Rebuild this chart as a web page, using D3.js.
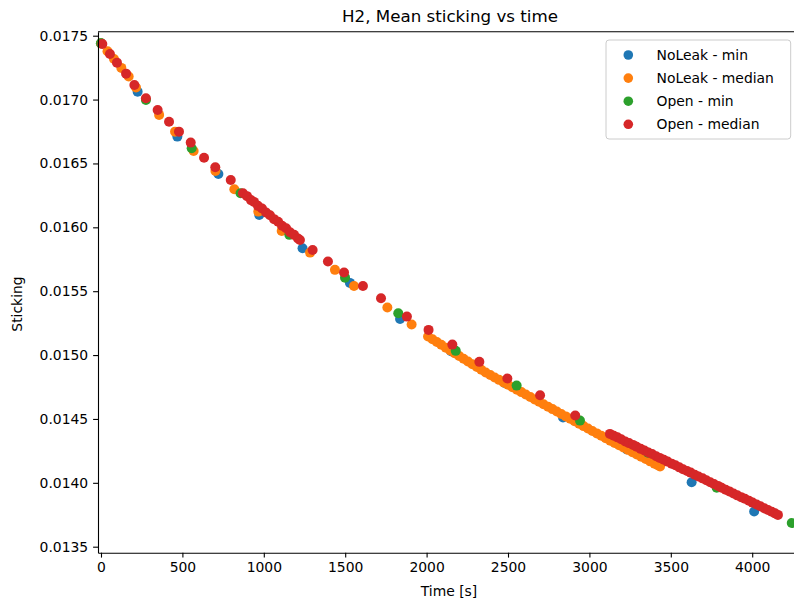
<!DOCTYPE html>
<html>
<head>
<meta charset="utf-8">
<script src="https://cdn.jsdelivr.net/npm/d3@7"></script>
<style>
  html, body { margin: 0; padding: 0; background: #fff; }
  svg { display: block; }
  text { font-family: "DejaVu Sans", sans-serif; fill: #000; }
</style>
</head>
<body>
<svg id="chart" width="794" height="601"></svg>
<script>
// ---------------- data ----------------
const chartTitle = "H2, Mean sticking vs time";
const xLabel = "Time [s]";
const yLabel = "Sticking";
const seriesNames = ["NoLeak - min", "NoLeak - median", "Open - min", "Open - median"];
const seriesColors = ["#1f77b4", "#ff7f0e", "#2ca02c", "#d62728"];
const xTicks = [0, 500, 1000, 1500, 2000, 2500, 3000, 3500, 4000];
const yTicks = [0.0135, 0.0140, 0.0145, 0.0150, 0.0155, 0.0160, 0.0165, 0.0170, 0.0175];

// NoLeak - min
const noLeakMinTime = [0, 225, 469, 721, 972, 1238, 1529, 1837, 2150, 2480, 2838, 3230, 3628, 4012];
const noLeakMinValue = [0.017440, 0.017062, 0.016710, 0.016418, 0.016097, 0.015836, 0.015565, 0.015283,
  0.015030, 0.014781, 0.014512, 0.014262, 0.014004, 0.013775];

// NoLeak - median
const noLeakMedTime = [0, 40, 80, 125, 170, 215, 357, 455, 569, 703, 819, 966, 1110, 1284, 1437, 1554, 1759, 1908,
  2009, 2036, 2063, 2090, 2118, 2145, 2172, 2200, 2227, 2254, 2281, 2309, 2336, 2363, 2391, 2418, 2445,
  2473, 2500, 2527, 2555, 2582, 2609, 2637, 2664, 2691, 2718, 2746, 2773, 2800, 2827, 2855, 2882, 2909,
  2937, 2964, 2991, 3018, 3046, 3073, 3100, 3128, 3155, 3182, 3209, 3237, 3264, 3291, 3318, 3346, 3373,
  3400, 3420, 3434];
const noLeakMedValue = [0.017440, 0.017378, 0.017318, 0.017248, 0.017180, 0.017095, 0.016880, 0.016749, 0.016598,
  0.016441, 0.016298, 0.016123, 0.015972, 0.015802, 0.015667, 0.015541, 0.015373, 0.015239,
  0.015145, 0.015124, 0.015102, 0.015081, 0.015058, 0.015037, 0.015015, 0.014993, 0.014971, 0.014950,
  0.014928, 0.014906, 0.014885, 0.014864, 0.014844, 0.014825, 0.014806, 0.014786, 0.014767, 0.014748,
  0.014729, 0.014710, 0.014691, 0.014672, 0.014653, 0.014634, 0.014615, 0.014596, 0.014577, 0.014558,
  0.014539, 0.014520, 0.014501, 0.014482, 0.014463, 0.014444, 0.014425, 0.014406, 0.014387, 0.014368,
  0.014349, 0.014330, 0.014312, 0.014294, 0.014276, 0.014258, 0.014240, 0.014222, 0.014204, 0.014186,
  0.014168, 0.014150, 0.014137, 0.014128];

// Open - min
const openMinTime = [0, 276, 557, 857, 1157, 1499, 1826, 2179, 2553, 2942, 3360, 3782, 4243];
const openMinValue = [0.017440, 0.016997, 0.016619, 0.016267, 0.015941, 0.015606, 0.015328, 0.015033,
  0.014761, 0.014487, 0.014236, 0.013962, 0.013685];

// Open - median
const openMedTime = [8, 55, 98, 154, 205, 276, 348, 418, 479, 551, 633, 702, 797,
  872, 897, 921, 940, 964, 989, 1014, 1038, 1063, 1088, 1112, 1137, 1161, 1186, 1210, 1222,
  1300, 1394, 1493, 1609, 1720, 1879, 2012, 2158, 2324, 2496, 2697, 2913,
  3126, 3150, 3172, 3195, 3220, 3243, 3268, 3290, 3315, 3338, 3362, 3385, 3410, 3432, 3457, 3480,
  3505, 3528, 3552, 3575, 3600, 3622, 3647, 3670, 3695, 3718, 3742, 3765, 3790, 3812, 3837, 3860,
  3885, 3908, 3932, 3955, 3980, 4002, 4027, 4050, 4074, 4097, 4120, 4140, 4158];
const openMedValue = [0.017435, 0.017357, 0.017289, 0.017203, 0.017114, 0.017010, 0.016919, 0.016827, 0.016749,
  0.016663, 0.016545, 0.016470, 0.016371,
  0.016267, 0.016244, 0.016213, 0.016199, 0.016168, 0.016147, 0.016116, 0.016095, 0.016064, 0.016044,
  0.016013, 0.015993, 0.015962, 0.015941, 0.015912, 0.015901,
  0.015823, 0.015733, 0.015647, 0.015540, 0.015445, 0.015301, 0.015197, 0.015082, 0.014947, 0.014816,
  0.014685, 0.014527,
  0.014383, 0.014368, 0.014356, 0.014341, 0.014324, 0.014311, 0.014297, 0.014282, 0.014266, 0.014253,
  0.014238, 0.014225, 0.014208, 0.014195, 0.014181, 0.014166, 0.014150, 0.014137, 0.014121, 0.014106,
  0.014092, 0.014080, 0.014063, 0.014049, 0.014035, 0.014020, 0.014004, 0.013991, 0.013976, 0.013962,
  0.013946, 0.013933, 0.013917, 0.013902, 0.013888, 0.013875, 0.013859, 0.013845, 0.013830, 0.013817,
  0.013801, 0.013787, 0.013773, 0.013761, 0.013749];

const seriesTimes = [noLeakMinTime, noLeakMedTime, openMinTime, openMedTime];
const seriesValues = [noLeakMinValue, noLeakMedValue, openMinValue, openMedValue];

// ---------------- layout ----------------
const plot = { left: 98, right: 796, top: 31.7, bottom: 552.7 };
const FS = 13.9;

const svg = d3.select("#chart");

const x = d3.scaleLinear().domain([-18.4, 4269]).range([plot.left, plot.right]);
const y = d3.scaleLinear().domain([0.013453, 0.0175313]).range([plot.bottom, plot.top]);

// points
const gPts = svg.append("g");
seriesNames.forEach((name, i) => {
  const pts = seriesTimes[i].map((t, k) => ({ t, v: seriesValues[i][k] }));
  gPts.append("g")
    .selectAll("circle")
    .data(pts)
    .join("circle")
    .attr("cx", d => x(d.t))
    .attr("cy", d => y(d.v))
    .attr("r", 5)
    .attr("fill", seriesColors[i]);
});

// axes
const xAxis = d3.axisBottom(x).tickValues(xTicks).tickFormat(d3.format("d"))
  .tickSize(4.9).tickPadding(4.6).tickSizeOuter(0);
const yAxis = d3.axisLeft(y).tickValues(yTicks).tickFormat(d3.format(".4f"))
  .tickSize(4.9).tickPadding(4.9).tickSizeOuter(0);

const gx = svg.append("g").attr("transform", `translate(0,${plot.bottom})`).call(xAxis);
const gy = svg.append("g").attr("transform", `translate(${plot.left},0)`).call(yAxis);
[gx, gy].forEach(g => {
  g.selectAll("text").style("font-family", '"DejaVu Sans", sans-serif').style("font-size", FS + "px").attr("fill", "#000");
  g.selectAll("line").attr("stroke", "#000").attr("stroke-width", 1.1);
  g.select(".domain").attr("stroke", "#000").attr("stroke-width", 1.1);
});

// top and right spines
svg.append("line").attr("x1", plot.left).attr("x2", plot.right).attr("y1", plot.top).attr("y2", plot.top)
  .attr("stroke", "#000").attr("stroke-width", 1.1);
svg.append("line").attr("x1", plot.right).attr("x2", plot.right).attr("y1", plot.top).attr("y2", plot.bottom)
  .attr("stroke", "#000").attr("stroke-width", 1.1);

// title and labels
svg.append("text").attr("x", (plot.left + plot.right) / 2 + 3).attr("y", 22)
  .attr("text-anchor", "middle").style("font-size", "16.7px").text(chartTitle);
svg.append("text").attr("x", (plot.left + plot.right) / 2 + 2).attr("y", 596)
  .attr("text-anchor", "middle").style("font-size", FS + "px").text(xLabel);
svg.append("text").attr("transform", "translate(22,304) rotate(-90)")
  .attr("text-anchor", "middle").style("font-size", FS + "px").text(yLabel);

// legend
const lg = svg.append("g");
lg.append("rect").attr("x", 606).attr("y", 40).attr("width", 184.7).attr("height", 99)
  .attr("rx", 3).attr("fill", "#fff").attr("fill-opacity", 0.8)
  .attr("stroke", "#cccccc").attr("stroke-width", 1);
seriesNames.forEach((name, i) => {
  const cy = 55 + i * 23.1;
  lg.append("circle").attr("cx", 628.3).attr("cy", cy).attr("r", 4.8).attr("fill", seriesColors[i]);
  lg.append("text").attr("x", 656.5).attr("y", cy + 4.6).style("font-size", FS + "px").text(name);
});
</script>
</body>
</html>
